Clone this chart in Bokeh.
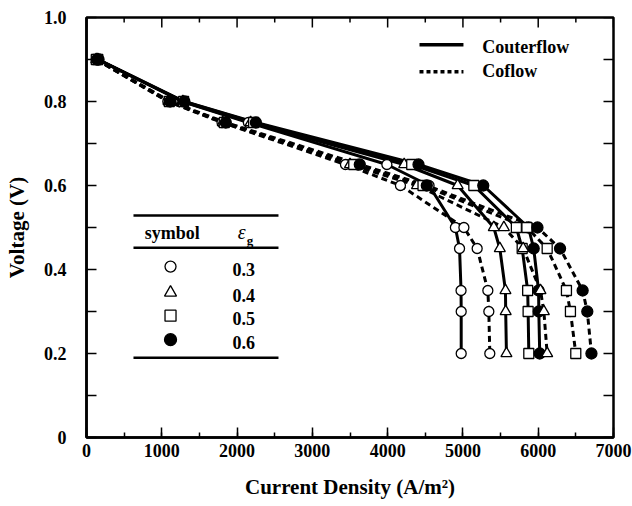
from bokeh.plotting import figure
from bokeh.models import Range1d, SingleIntervalTicker, FixedTicker
from bokeh.core.properties import value
from bokeh.embed import file_html
from bokeh.resources import INLINE

# ---------------- data ----------------
voltage = [0.9, 0.8, 0.75, 0.65, 0.6, 0.5, 0.45, 0.35, 0.3, 0.2]

counter_03 = [150, 1270, 2150, 3990, 4550, 4900, 4955, 4975, 4977, 4977]
counter_04 = [150, 1280, 2180, 4220, 4930, 5410, 5490, 5565, 5568, 5578]
counter_05 = [150, 1290, 2220, 4320, 5145, 5710, 5787, 5860, 5866, 5875]
counter_06 = [160, 1300, 2250, 4410, 5270, 5870, 5940, 6005, 6008, 6020]

coflow_03 = [130, 1080, 1800, 3440, 4170, 5013, 5189, 5331, 5344, 5357]
coflow_04 = [130, 1090, 1810, 3500, 4390, 5544, 5800, 6030, 6075, 6119]
coflow_05 = [130, 1100, 1830, 3550, 4470, 5850, 6119, 6375, 6428, 6499]
coflow_06 = [140, 1110, 1850, 3630, 4520, 5990, 6290, 6590, 6652, 6707]

eps_labels = ["0.3", "0.4", "0.5", "0.6"]
x_ticks = [0, 1000, 2000, 3000, 4000, 5000, 6000, 7000]
x_minor_ticks = [500, 1500, 2500, 3500, 4500, 5500, 6500]
y_ticks = [0.0, 0.1, 0.2, 0.3, 0.4, 0.5, 0.6, 0.7, 0.8, 0.9, 1.0]
y_tick_labels = ["0", "", "0.2", "", "0.4", "", "0.6", "", "0.8", "", "1.0"]

FONT = value("Liberation Serif")
X0, X1, Y0, Y1 = 0, 7000, 0, 1.0
FRAME_W, FRAME_H = 527, 420

p = figure(width=632, height=506, output_backend="svg", toolbar_location=None,
           x_range=Range1d(X0, X1), y_range=Range1d(Y0, Y1),
           min_border_left=86, min_border_right=19, min_border_top=17, min_border_bottom=69)
p.grid.visible = False
p.background_fill_color = "white"
p.outline_line_color = "black"
p.outline_line_width = 2.5

def style_axis(ax):
    ax.axis_line_color = "black"
    ax.axis_line_width = 2.5
    ax.major_tick_in = 10
    ax.major_tick_out = 0
    ax.minor_tick_in = 5
    ax.minor_tick_out = 0
    ax.major_tick_line_width = 1.5
    ax.minor_tick_line_width = 1.5
    ax.major_label_text_font = "Liberation Serif"
    ax.major_label_text_font_style = "bold"
    ax.major_label_text_color = "black"
    ax.major_label_text_font_size = "18px"
    ax.axis_label_text_font = "Liberation Serif"
    ax.axis_label_text_font_style = "bold"
    ax.axis_label_text_color = "black"
    ax.axis_label_text_font_size = "21px"

xa = p.xaxis[0]
xa.ticker = SingleIntervalTicker(interval=1000, num_minor_ticks=2)
style_axis(xa)
xa.major_label_standoff = 6
xa.axis_label = "Current Density (A/m²)"
xa.axis_label_standoff = 15

ya = p.yaxis[0]
ya.ticker = FixedTicker(ticks=y_ticks, minor_ticks=[])
style_axis(ya)
ya.major_label_overrides = {t: s for t, s in zip(y_ticks, y_tick_labels)}
ya.major_label_standoff = 20
ya.axis_label = "Voltage (V)"
ya.axis_label_standoff = 12

# mirrored inward ticks on top and right frame edges
dy_major = 10 / FRAME_H * (Y1 - Y0)
dy_minor = 5 / FRAME_H * (Y1 - Y0)
dx_major = 10 / FRAME_W * (X1 - X0)
p.segment(x0=x_ticks, y0=[Y1] * len(x_ticks), x1=x_ticks, y1=[Y1 - dy_major] * len(x_ticks),
          line_color="black", line_width=1.5)
p.segment(x0=x_minor_ticks, y0=[Y1] * len(x_minor_ticks), x1=x_minor_ticks,
          y1=[Y1 - dy_minor] * len(x_minor_ticks), line_color="black", line_width=1.5)
p.segment(x0=[X1] * len(y_ticks), y0=y_ticks, x1=[X1 - dx_major] * len(y_ticks), y1=y_ticks,
          line_color="black", line_width=1.5)

# series
series = [
    (counter_03, "circle", "white", 10, "solid"),
    (counter_04, "triangle", "white", 11, "solid"),
    (counter_05, "square", "white", 10, "solid"),
    (counter_06, "circle", "black", 11, "solid"),
    (coflow_03, "circle", "white", 10, "6 4"),
    (coflow_04, "triangle", "white", 11, "6 4"),
    (coflow_05, "square", "white", 10, "6 4"),
    (coflow_06, "circle", "black", 11, "6 4"),
]
for xs, mk, fc, sz, dash in series:
    p.line(xs, voltage, line_color="black", line_width=3, line_dash=dash)
for xs, mk, fc, sz, dash in series:
    p.scatter(xs, voltage, marker=mk, size=sz, fill_color=fc, line_color="black", line_width=1.3)

# ---------------- legend (layout, data coords) ----------------
p.line([4423, 5007], [0.935, 0.935], line_color="black", line_width=3.5)
p.line([4423, 5007], [0.871, 0.871], line_color="black", line_width=3.5, line_dash="4 3")
p.text([5256, 5256], [0.929, 0.872], text=["Couterflow", "Coflow"], text_font=FONT,
       text_font_style="bold", text_font_size="18px", text_baseline="middle", text_align="left",
       text_color="black")

for yy in [0.5286, 0.452, 0.190]:
    p.line([624, 2550], [yy, yy], line_color="black", line_width=2.5)
p.text([1138], [0.488], text=["symbol"], text_font=FONT, text_font_style="bold",
       text_font_size="18px", text_align="center", text_baseline="middle")
p.text([2060], [0.490], text=["ε"], text_font=FONT, text_font_style="italic",
       text_font_size="20px", text_align="center", text_baseline="middle")
p.text([2172], [0.468], text=["g"], text_font=FONT, text_font_style="bold",
       text_font_size="13px", text_align="center", text_baseline="middle")

leg_y = [0.407, 0.345, 0.290, 0.233]
leg_mk = ["circle", "triangle", "square", "circle"]
leg_fc = ["white", "white", "white", "black"]
leg_sz = [11, 12, 11, 12]
for yy, mk, fc, sz in zip(leg_y, leg_mk, leg_fc, leg_sz):
    p.scatter([1116], [yy], marker=mk, size=sz, fill_color=fc, line_color="black", line_width=1.3)
p.text([2090] * 4, [y - 0.006 for y in leg_y], text=eps_labels, text_font=FONT, text_font_style="bold",
       text_font_size="18px", text_align="center", text_baseline="middle")

open("out.html", "w").write(file_html(p, INLINE))
